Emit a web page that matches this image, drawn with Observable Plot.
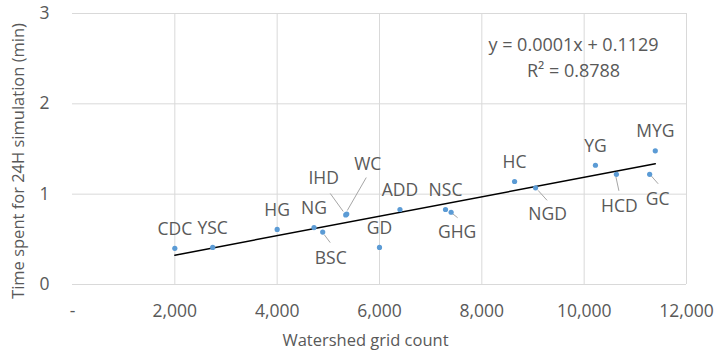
<!DOCTYPE html>
<html>
<head>
<meta charset="utf-8">
<script src="https://cdn.jsdelivr.net/npm/d3@7"></script>
<script src="https://cdn.jsdelivr.net/npm/@observablehq/plot@0.6"></script>
<style>
  html, body { margin: 0; padding: 0; background: #fff; }
</style>
</head>
<body>
<div id="chart"></div>
<script>
// ---- data ----
const names = ["CDC","YSC","HG","NG","BSC","IHD","WC","GD","ADD","NSC","GHG","HC","NGD","YG","HCD","GC","MYG"];
const gridCount = [2000,2740,4000,4720,4890,5340,5360,6000,6400,7290,7400,8640,9050,10220,10630,11280,11390];
const minutes = [0.40,0.41,0.61,0.63,0.58,0.77,0.78,0.41,0.83,0.83,0.80,1.14,1.07,1.32,1.22,1.22,1.48];
const xTicks = [0,2000,4000,6000,8000,10000,12000];
const yTicks = [0,1,2,3];
const equation = "y = 0.0001x + 0.1129";
const rSquared = "R² = 0.8788";
const xTitle = "Watershed grid count";
const yTitle = "Time spent for 24H simulation (min)";

const data = names.map((n, i) => ({name: n, x: gridCount[i], y: minutes[i]}));

// ---- label layout (pixel offsets, styling only) ----
const above = {dx: 0, dy: -19};
const layout = {
  IHD: {dx: -22, dy: -37, lead: [-2, -3, -15, -21]},
  WC:  {dx: 21, dy: -50, lead: [1, -3, 20, -36]},
  BSC: {dx: 8, dy: 26, lead: [2, 3, 8, 11]},
  GHG: {dx: 6, dy: 20, lead: [2, 2, 7, 6]},
  NGD: {dx: 12, dy: 27, lead: [3, 3, 12, 13]},
  HCD: {dx: 3, dy: 32, lead: [0, 3, 3, 17]},
  GC:  {dx: 8, dy: 25, lead: [2, 2, 9, 10]}
};

const font = "'Open Sans', sans-serif";
const textColor = "#595959";

const labelMarks = data.map(d => {
  const o = layout[d.name] || above;
  return Plot.text([d], {x: "x", y: "y", text: "name", dx: o.dx, dy: o.dy,
    fontSize: 17.5, fill: textColor, textAnchor: "middle", lineAnchor: "middle"});
});

const leaders = (index, scales) => {
  const g = d3.create("svg:g").attr("stroke", "#a6a6a6").attr("stroke-width", 1);
  data.forEach(d => {
    const o = layout[d.name];
    if (!o) return;
    const px = scales.x(d.x), py = scales.y(d.y);
    g.append("line")
      .attr("x1", px + o.lead[0]).attr("y1", py + o.lead[1])
      .attr("x2", px + o.lead[2]).attr("y2", py + o.lead[3]);
  });
  return g.node();
};

const chart = Plot.plot({
  width: 717,
  height: 353,
  marginLeft: 72,
  marginRight: 31,
  marginTop: 13,
  marginBottom: 69,
  style: {fontFamily: font, fontSize: "17.5px", color: textColor, background: "#fff"},
  x: {domain: [0, 12000], ticks: xTicks, tickSize: 0, tickPadding: 20, label: null,
      tickFormat: d => d === 0 ? "-" : d3.format(",")(d)},
  y: {domain: [0, 3], ticks: yTicks, tickSize: 0, tickPadding: 23, label: null,
      tickFormat: d => String(d)},
  marks: [
    Plot.ruleX(xTicks.filter(t => t > 0), {stroke: "#d9d9d9", strokeWidth: 1}),
    Plot.ruleY(yTicks, {stroke: "#d9d9d9", strokeWidth: 1}),
    Plot.linearRegressionY(data, {x: "x", y: "y", stroke: "#000", strokeWidth: 1.5, ci: 0}),
    leaders,
    Plot.dot(data, {x: "x", y: "y", r: 2.6, fill: "#5b9bd5", stroke: "none"}),
    ...labelMarks,
    Plot.text([equation + "\n" + rSquared], {frameAnchor: "top-right", dx: -113, dy: 42,
      textAnchor: "middle", lineAnchor: "middle", lineHeight: 1.45, fontSize: 18, fill: textColor}),
    Plot.text([xTitle], {frameAnchor: "bottom", dx: -14, dy: 56, fontSize: 16.5, fill: textColor, lineAnchor: "middle"}),
    Plot.text([yTitle], {frameAnchor: "left", dx: -54, dy: 12, rotate: -90, fontSize: 16.5, fill: textColor,
      textAnchor: "middle", lineAnchor: "middle"})
  ]
});
document.getElementById("chart").appendChild(chart);
</script>
</body>
</html>
